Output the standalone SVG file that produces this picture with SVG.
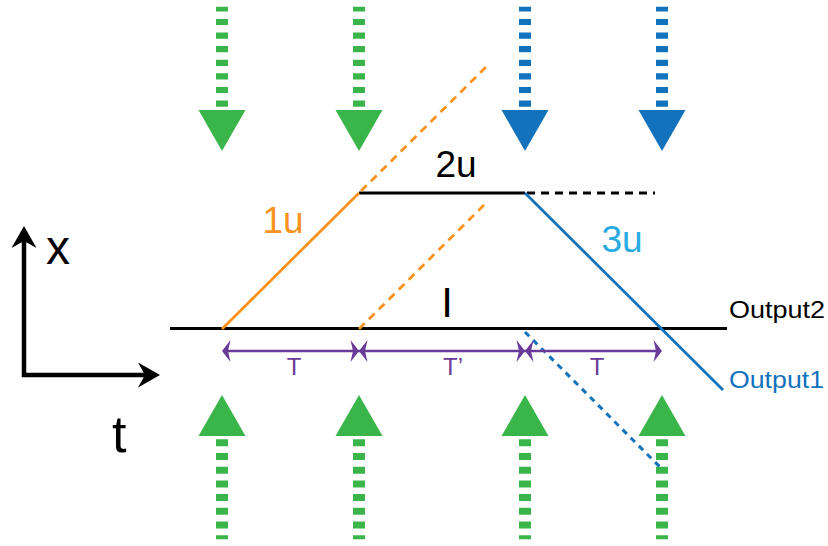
<svg xmlns="http://www.w3.org/2000/svg" width="828" height="546" viewBox="0 0 828 546">
<style>
.gdash{stroke:#3AB54A;stroke-width:12;fill:none;stroke-dasharray:6.2 7.4}
.gdashb{stroke:#3AB54A;stroke-width:12;fill:none;stroke-dasharray:7 6.7}
.bdash{stroke:#1273BC;stroke-width:12;fill:none;stroke-dasharray:6.2 7.4}
.gtri{fill:#3AB54A}
.btri{fill:#1273BC}
.lbl{font-family:"Liberation Sans",Arial,sans-serif}
.pur{fill:#6A3B98}
</style>
<rect width="828" height="546" fill="#ffffff"/>
<g id="top-arrows">
<path class="gdash" d="M222,106.7V6.7"/>
<path class="gdash" d="M359,106.7V6.7"/>
<path class="bdash" d="M525,106.7V6.7"/>
<path class="bdash" d="M662,106.7V6.7"/>
<path class="gtri" d="M198.5,110H245.5L222,151Z"/>
<path class="gtri" d="M335.5,110H382.5L359,151Z"/>
<path class="btri" d="M501.5,110H548.5L525,151Z"/>
<path class="btri" d="M638.5,110H685.5L662,151Z"/>
</g>
<g id="bottom-arrows">
<path class="gdashb" d="M222,439.3V539.3"/>
<path class="gdashb" d="M359,439.3V539.3"/>
<path class="gdashb" d="M525,439.3V539.3"/>
<path class="gdashb" d="M662,439.3V539.3"/>
<path class="gtri" d="M198.5,436H245.5L222,395Z"/>
<path class="gtri" d="M335.5,436H382.5L359,395Z"/>
<path class="gtri" d="M501.5,436H548.5L525,395Z"/>
<path class="gtri" d="M638.5,436H685.5L662,395Z"/>
</g>
<g id="axes">
<path d="M24,240V375H150" stroke="#000" stroke-width="4.5" fill="none"/>
<path d="M24,226L36.5,248L24,241L11.5,248Z" fill="#000"/>
<path d="M160,375L138,362.5L145,375L138,387.5Z" fill="#000"/>
<text class="lbl" x="46" y="264" font-size="48">x</text>
<text class="lbl" x="112" y="452" font-size="52">t</text>
</g>
<g id="connectors">
<line x1="170" y1="328.5" x2="727" y2="328.5" stroke="#000" stroke-width="3"/>
<line x1="359" y1="193" x2="525" y2="193" stroke="#000" stroke-width="3"/>
<line x1="527" y1="193" x2="655" y2="193" stroke="#000" stroke-width="3" stroke-dasharray="8 6"/>
<line x1="222" y1="329" x2="359" y2="193" stroke="#F7931E" stroke-width="2.8"/>
<line x1="361" y1="191" x2="488" y2="65" stroke="#F7931E" stroke-width="2.8" stroke-dasharray="8 6"/>
<line x1="359" y1="329" x2="486" y2="203" stroke="#F7931E" stroke-width="2.8" stroke-dasharray="8 6"/>
<line x1="525" y1="193" x2="723" y2="390" stroke="#1273BC" stroke-width="2.8"/>
<line x1="525" y1="332" x2="661" y2="468" stroke="#1273BC" stroke-width="3" stroke-dasharray="6 5.5"/>
</g>
<g id="dimension">
<line x1="226" y1="351" x2="657" y2="351" stroke="#6A3B98" stroke-width="2.5"/>
<path class="pur" d="M222,351L230.5,340L228,351L230.5,362Z"/>
<path class="pur" d="M359,351L350.5,340L353,351L350.5,362Z"/>
<path class="pur" d="M359,351L367.5,340L365,351L367.5,362Z"/>
<path class="pur" d="M525,351L516.5,340L519,351L516.5,362Z"/>
<path class="pur" d="M525,351L533.5,340L531,351L533.5,362Z"/>
<path class="pur" d="M662,351L653.5,340L656,351L653.5,362Z"/>
<text class="lbl pur" x="294" y="375" font-size="24" text-anchor="middle">T</text>
<text class="lbl pur" x="453" y="375" font-size="24" text-anchor="middle">T’</text>
<text class="lbl pur" x="597" y="375" font-size="24" text-anchor="middle">T</text>
</g>
<g id="labels">
<text class="lbl" x="456" y="177" font-size="37" text-anchor="middle" fill="#000">2u</text>
<text class="lbl" x="283" y="233" font-size="37" text-anchor="middle" fill="#F7931E">1u</text>
<text class="lbl" x="622" y="252" font-size="37" text-anchor="middle" fill="#29AAE1">3u</text>
<text class="lbl" x="447" y="317" font-size="42" text-anchor="middle" fill="#000">I</text>
<text class="lbl" x="729" y="318" font-size="23" textLength="96" lengthAdjust="spacingAndGlyphs" fill="#000">Output2</text>
<text class="lbl" x="729" y="388" font-size="23" textLength="95" lengthAdjust="spacingAndGlyphs" fill="#1273BC">Output1</text>
</g>
</svg>
